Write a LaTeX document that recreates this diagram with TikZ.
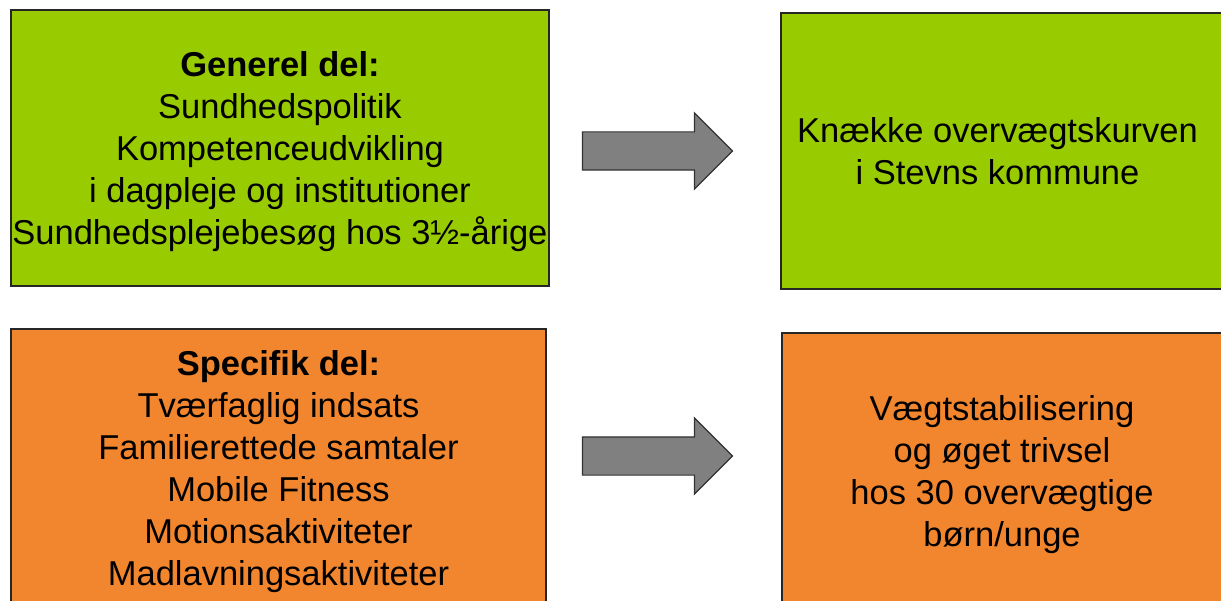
\documentclass[tikz,border=0pt]{standalone}
\usepackage{fontspec}
\setmainfont{Liberation Sans}
\usetikzlibrary{shapes.arrows}
\definecolor{boxgreen}{RGB}{153,204,0}
\definecolor{boxorange}{RGB}{242,134,46}
\definecolor{arrowgray}{RGB}{128,128,128}

\begin{document}
\begin{tikzpicture}[x=1pt, y=-1pt,
    box/.style={rectangle, draw=black!85, line width=1.6pt, inner sep=0pt},
    boxtext/.style={align=center, inner sep=0pt, font=\fontsize{34.5}{42}\selectfont},
    goarrow/.style={single arrow, draw=black!80, line width=1.2pt, fill=arrowgray,
                    minimum height=150pt, minimum width=75pt, single arrow head extend=19pt,
                    single arrow tip angle=90, inner xsep=0pt, inner ysep=18.5pt}]
            \useasboundingbox (0,0) rectangle (1221,601);
            \fill[white] (0,0) rectangle (1221,601);

            % Define boxes
            \node[box, fill=boxgreen, minimum width=538pt, minimum height=276pt] (general) at (280,148) {};
            \node[box, fill=boxgreen, minimum width=441pt, minimum height=276pt] (goal) at (1001.5,151) {};
            \node[box, fill=boxorange, minimum width=535pt, minimum height=279pt] (specific) at (278.5,468.5) {};
            \node[box, fill=boxorange, minimum width=440pt, minimum height=276pt] (result) at (1002,471) {};

            % Texts in the boxes
            \node[boxtext] (generaltext) at ([yshift=-4pt]general.center)
                {\textbf{Generel del:}\\Sundhedspolitik\\Kompetenceudvikling\\i dagpleje og institutioner\\Sundhedsplejebesøg hos 3½-årige};
            \node[boxtext] (goaltext) at ([xshift=-4pt]goal.center)
                {Knække overvægtskurven\\i Stevns kommune};
            \node[boxtext] (specifictext) at ([yshift=-3pt]specific.center)
                {\textbf{Specifik del:}\\Tværfaglig indsats\\Familierettede samtaler\\Mobile Fitness\\Motionsaktiviteter\\Madlavningsaktiviteter};
            \node[boxtext] (resulttext) at ([yshift=-4pt]result.center)
                {Vægtstabilisering\\og øget trivsel\\hos 30 overvægtige\\børn/unge};

            % Draw block arrows
            \node[goarrow] (arrowtop) at (648,151) {};
            \node[goarrow] (arrowbottom) at (648,456) {};
        \end{tikzpicture}
\end{document}
